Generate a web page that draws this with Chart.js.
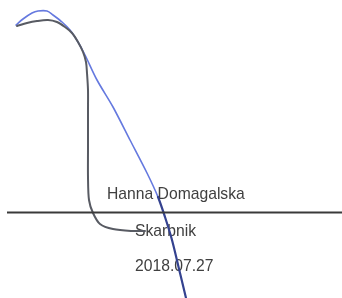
<!DOCTYPE html>
<html>
<head>
<meta charset="utf-8">
<script src="https://cdn.jsdelivr.net/npm/chart.js@4/dist/chart.umd.min.js"></script>
<style>
  html, body { margin: 0; padding: 0; background: #ffffff; }
  #wrap { width: 342px; height: 298px; }
</style>
</head>
<body>
<div id="wrap"><canvas id="c" width="342" height="298"></canvas></div>
<script>
// Stroke 1 (gray pen) sampled points
const grayX = [17, 27, 37, 48, 57, 65, 72, 78, 83, 86, 87, 88, 88, 88, 88, 88, 89, 93, 100, 113, 133, 145];
const grayY = [26, 23, 21, 20, 22, 27, 33, 42, 52, 62, 73, 90, 110, 130, 150, 177, 200, 213, 224, 229, 231, 231];
// Stroke 2 (blue pen) sampled points
const blueX = [16, 23, 32, 38, 47, 53, 62, 70, 78, 85, 97, 113, 130, 147, 158, 165, 172, 180, 186];
const blueY = [25, 19, 13, 11, 11, 15, 22, 30, 42, 55, 80, 107, 140, 173, 197, 217, 240, 273, 298];
// Signature rule line
const ruleX = [7, 342];
const ruleY = [212.5, 212.5];
// Text lines
const textLines = ["Hanna Domagalska", "Skarbnik", "2018.07.27"];
const textAnchorX = [107, 135, 135];
const textAnchorY = [199, 236, 271];

const toPts = (xs, ys) => xs.map((x, i) => ({ x: x, y: ys[i] }));

const textPlugin = {
  id: 'textPlugin',
  beforeDatasetsDraw(chart) {
    const { ctx, scales } = chart;
    ctx.save();
    ctx.font = '15.7px "Liberation Sans", Arial, sans-serif';
    ctx.fillStyle = '#404040';
    ctx.textBaseline = 'alphabetic';
    ctx.textAlign = 'left';
    textLines.forEach((t, i) => {
      ctx.fillText(t, scales.x.getPixelForValue(textAnchorX[i]), scales.y.getPixelForValue(textAnchorY[i]));
    });
    ctx.restore();
  }
};

new Chart(document.getElementById('c'), {
  type: 'scatter',
  data: {
    datasets: [
      {
        data: toPts(ruleX, ruleY),
        showLine: true,
        borderColor: '#3a3a3a',
        borderWidth: 2,
        pointRadius: 0,
        tension: 0
      },
      {
        data: toPts(grayX, grayY),
        showLine: true,
        borderColor: '#585b63',
        borderWidth: 2,
        pointRadius: 0,
        tension: 0.3,
        borderCapStyle: 'round',
        borderJoinStyle: 'round'
      },
      {
        data: toPts(blueX, blueY),
        showLine: true,
        borderColor: '#6579df',
        borderWidth: 1.6,
        pointRadius: 0,
        tension: 0.3,
        borderCapStyle: 'round',
        borderJoinStyle: 'round',
        segment: {
          borderColor: c => (c.p0.parsed.y >= 197 ? '#34428f' : undefined),
          borderWidth: c => (c.p0.parsed.y >= 197 ? 2.2 : undefined)
        }
      }
    ]
  },
  options: {
    responsive: false,
    animation: false,
    devicePixelRatio: 1,
    layout: { padding: 0 },
    plugins: { legend: { display: false }, tooltip: { enabled: false } },
    scales: {
      x: { type: 'linear', min: 0, max: 342, display: false },
      y: { type: 'linear', min: 0, max: 298, reverse: true, display: false }
    }
  },
  plugins: [textPlugin]
});
</script>
</body>
</html>
